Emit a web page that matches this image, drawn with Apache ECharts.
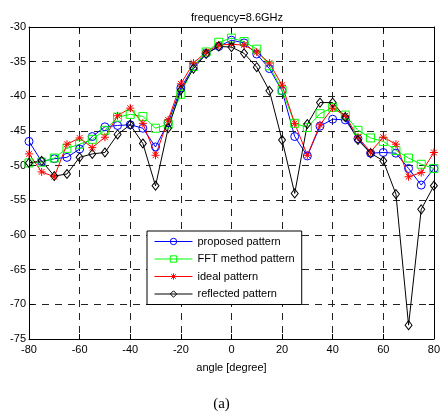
<!DOCTYPE html>
<html>
<head>
<meta charset="utf-8">
<script src="https://cdn.jsdelivr.net/npm/echarts@6/dist/echarts.min.js"></script>
<style>
html,body{margin:0;padding:0;background:#fff;}
#chart{width:443px;height:417px;}
</style>
</head>
<body>
<div id="chart"></div>
<script>
var angles = [-80,-75,-70,-65,-60,-55,-50,-45,-40,-35,-30,-25,-20,-15,-10,-5,0,5,10,15,20,25,30,35,40,45,50,55,60,65,70,75,80];
var proposed = [-46.5,-49.4,-49.0,-48.8,-47.6,-45.8,-44.4,-44.2,-44.1,-44.6,-47.3,-43.8,-38.8,-35.7,-33.8,-32.8,-31.9,-32.3,-33.9,-36.0,-39.2,-45.8,-48.6,-44.3,-43.3,-43.4,-46.1,-48.2,-48.1,-48.2,-50.4,-52.8,-50.4];
var fftMethod = [-49.6,-49.5,-48.9,-47.5,-46.9,-46.2,-44.9,-43.0,-42.6,-42.9,-44.6,-44.0,-39.7,-35.7,-33.6,-32.2,-31.6,-32.1,-33.2,-35.6,-39.1,-43.9,-44.5,-42.5,-41.6,-42.7,-44.9,-46.0,-46.5,-47.8,-48.9,-49.8,-50.4];
var ideal = [-48.3,-50.9,-51.6,-46.9,-46.0,-47.4,-45.9,-42.8,-41.7,-43.9,-48.5,-43.4,-38.2,-35.2,-33.6,-32.6,-32.5,-32.6,-33.6,-35.2,-38.4,-43.9,-48.5,-44.1,-41.7,-42.8,-45.9,-48.0,-45.9,-46.9,-51.6,-51.0,-48.1];
var reflected = [-49.6,-49.3,-51.5,-51.2,-48.8,-48.3,-48.1,-45.5,-44.1,-46.8,-52.9,-44.6,-39.1,-36.0,-33.9,-32.8,-32.9,-33.8,-35.8,-39.2,-46.3,-54.0,-44.0,-40.9,-40.9,-43.0,-46.3,-48.2,-49.3,-54.1,-73.0,-56.3,-52.9];
var seriesNames = ['proposed pattern','FFT method pattern','ideal pattern','reflected pattern'];
var xTicks = {min:-80, max:80, interval:20};
var yTicks = {min:-75, max:-30, interval:5};

function pairs(vals){ return angles.map(function(a,i){ return [a, vals[i]]; }); }

var font = 'Liberation Sans, Arial, Helvetica, sans-serif';
var gridLine = {show:true, lineStyle:{color:'#222', type:[7,6], width:1}};
var axisLineStyle = {show:true, onZero:false, lineStyle:{color:'#000', width:1}};
var tickIn = {show:true, inside:true, length:5, lineStyle:{color:'#000'}};
var starPath = 'path://M0,-5L0,5M-5,0L5,0M-3.6,-3.6L3.6,3.6M-3.6,3.6L3.6,-3.6';

function mk(name, vals, color, symbol, size){
  return {
    name:name, type:'line', data:pairs(vals), symbol:symbol, symbolSize:size,
    showAllSymbol:true,
    lineStyle:{color:color, width:1},
    itemStyle:{color:'rgba(0,0,0,0)', borderColor:color, borderWidth:1},
    emphasis:{disabled:true}, animation:false, z:3
  };
}

var chart = echarts.init(document.getElementById('chart'), null, {renderer:'canvas'});
chart.setOption({
  backgroundColor:'#fff',
  animation:false,
  title:{text:'frequency=8.6GHz', left:232, textAlign:'center', top:7,
    textStyle:{fontFamily:font, fontSize:11, fontWeight:'normal', color:'#000'}},
  grid:{left:29, right:7, top:27, bottom:78, containLabel:false},
  legend:{
    orient:'vertical', left:147, top:231, padding:[5,7,5,7],
    itemWidth:38, itemHeight:8, itemGap:6.5,
    backgroundColor:'#fff', borderColor:'#000', borderWidth:1,
    lineStyle:{width:1},
    itemStyle:{borderWidth:1},
    textStyle:{fontFamily:font, fontSize:11, color:'#000'},
    data:seriesNames
  },
  xAxis:[{
    type:'value', min:xTicks.min, max:xTicks.max, interval:xTicks.interval,
    name:'angle [degree]', nameLocation:'middle', nameGap:23,
    nameTextStyle:{fontFamily:font, fontSize:11, color:'#000'},
    axisLine:axisLineStyle, axisTick:tickIn,
    axisLabel:{fontFamily:font, fontSize:11, color:'#000', margin:5},
    splitLine:gridLine
  },{
    type:'value', position:'top', min:xTicks.min, max:xTicks.max, interval:xTicks.interval,
    axisLine:axisLineStyle, axisTick:tickIn, axisLabel:{show:false}, splitLine:{show:false}
  }],
  yAxis:[{
    type:'value', min:yTicks.min, max:yTicks.max, interval:yTicks.interval,
    axisLine:axisLineStyle, axisTick:tickIn,
    axisLabel:{fontFamily:font, fontSize:11, color:'#000', margin:3},
    splitLine:gridLine
  },{
    type:'value', position:'right', min:yTicks.min, max:yTicks.max, interval:yTicks.interval,
    axisLine:axisLineStyle, axisTick:tickIn, axisLabel:{show:false}, splitLine:{show:false}
  }],
  series:[
    mk(seriesNames[0], proposed, '#0000ff', 'circle', 8),
    mk(seriesNames[1], fftMethod, '#00ff00', 'rect', 8),
    mk(seriesNames[2], ideal, '#ff0000', starPath, 8),
    mk(seriesNames[3], reflected, '#000000', 'diamond', [7,9])
  ],
  graphic:[{
    type:'text', left:'center', top:397,
    style:{text:'(a)', font:'15px "Liberation Serif", "Times New Roman", serif', fill:'#000'}
  }]
});
</script>
</body>
</html>
